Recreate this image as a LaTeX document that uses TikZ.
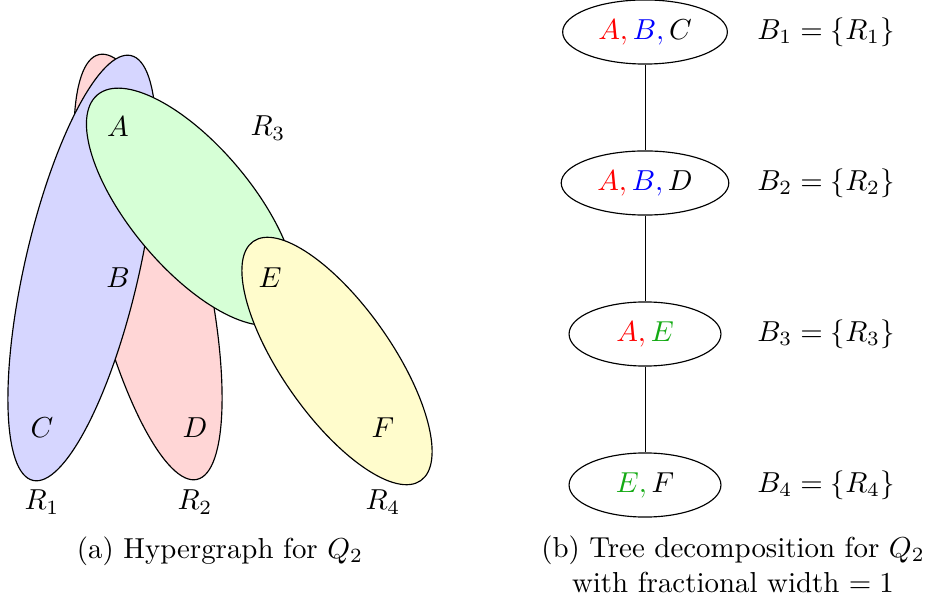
\documentclass[tikz,border=0pt]{standalone}
\usetikzlibrary{shapes.geometric}
\definecolor{myred}{RGB}{255,0,0}
\definecolor{myblue}{RGB}{0,0,255}
\definecolor{mygreen}{RGB}{20,170,20}
\begin{document}
\begin{tikzpicture}[x=0.3463pt,y=-0.3463pt,
  hedge/.style={draw=black, line width=0.4pt},
  bag/.style={draw, ellipse, line width=0.4pt, inner xsep=4pt, inner ysep=2pt, minimum width=52.6pt, minimum height=22.2pt},
  vlbl/.style={inner sep=0pt},
  treeedge/.style={draw=black, line width=0.35pt}]
\useasboundingbox (0,0) rectangle (928,600);
% hyperedges
\draw[hedge, fill=red!16, rotate around={103:(148,267)}] (148,267) ellipse (218 and 57);
\draw[hedge, fill=blue!16, rotate around={77:(82,268)}] (82,268) ellipse (218 and 57);
\draw[hedge, fill=green!16, rotate around={-50:(191.3,206.7)}] (191.3,206.7) ellipse (146 and 61);
\draw[hedge, fill=yellow!20, rotate around={-55:(337,361)}] (337,361) ellipse (146 and 55);
% vertices
\node[vlbl] (A) at (118,127) {$A$};
\node[vlbl] (B) at (118,278) {$B$};
\node[vlbl] (C) at (42,428) {$C$};
\node[vlbl] (D) at (195,428) {$D$};
\node[vlbl] (E) at (270,278) {$E$};
\node[vlbl] (F) at (383,428) {$F$};
\node[vlbl] (R3) at (268,128) {$R_3$};
\node[vlbl] (R1) at (42,502) {$R_1$};
\node[vlbl] (R2) at (195,502) {$R_2$};
\node[vlbl] (R4) at (383,502) {$R_4$};
\node (capa) at (220,551) {(a) Hypergraph for $Q_2$};
% tree decomposition
\node[bag] (n1) at (645,32) {$\textcolor{myred}{A,}\,\textcolor{myblue}{B,}\,C$};
\node[bag] (n2) at (645,183) {$\textcolor{myred}{A,}\,\textcolor{myblue}{B,}\,D$};
\node[bag] (n3) at (645,334) {$\textcolor{myred}{A,}\,\textcolor{mygreen}{E}$};
\node[bag] (n4) at (645,485) {$\textcolor{mygreen}{E,}\,F$};
\draw[treeedge] (n1) -- (n2);
\draw[treeedge] (n2) -- (n3);
\draw[treeedge] (n3) -- (n4);
\node (b1) at (826,32) {$B_1=\{R_1\}$};
\node (b2) at (826,183) {$B_2=\{R_2\}$};
\node (b3) at (826,334) {$B_3=\{R_3\}$};
\node (b4) at (826,485) {$B_4=\{R_4\}$};
\node[align=center] (capb) at (733,564) {(b) Tree decomposition for $Q_2$\\with fractional width $=1$};
\end{tikzpicture}
\end{document}
